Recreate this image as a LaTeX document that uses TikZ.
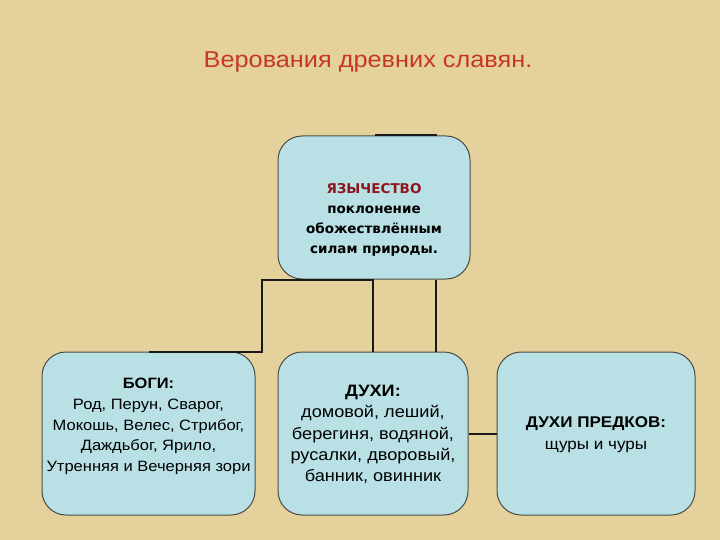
\documentclass[tikz,border=0pt]{standalone}
\usepackage{fontspec}
\setmainfont[FakeStretch=1.1]{Liberation Sans}
\newfontfamily\verd{DejaVu Sans}
\definecolor{parch}{RGB}{229,209,155}
\definecolor{boxfill}{RGB}{185,224,229}
\definecolor{boxline}{RGB}{75,75,70}
\definecolor{titlered}{RGB}{198,56,36}
\definecolor{darkred}{RGB}{140,22,30}
\begin{document}
\begin{tikzpicture}[x=1pt,y=-1pt,
  card/.style={draw=boxline, line width=1pt, fill=boxfill, rounded corners=24pt, inner sep=0pt},
  cardtext/.style={align=center, inner sep=0pt, text=black},
  link/.style={draw=black!90, line width=2pt}]
\useasboundingbox (0,0) rectangle (720,540);
\fill[parch] (0,0) rectangle (720,540);
\node[text=titlered, font=\fontsize{23}{27}\selectfont] (title) at (368,62) {Верования древних славян.};

\coordinate (jl) at (262,280);
\coordinate (jr) at (436,280);
\coordinate (tt) at (375,135);
\coordinate (tte) at (437,135);

\node[card, minimum width=192pt, minimum height=143pt] (top) at (374,207.5) {};
\node[card, minimum width=213pt, minimum height=163pt] (bogi) at (148.5,433.5) {};
\node[card, minimum width=190pt, minimum height=163pt] (duhi) at (373,433.5) {};
\node[card, minimum width=198pt, minimum height=163pt] (pred) at (596,433.5) {};

\node[cardtext, font=\verd\bfseries\fontsize{13.5}{20}\selectfont] (topT) at ([yshift=-12pt]top.center)
  {\textcolor{darkred}{ЯЗЫЧЕСТВО}\\поклонение\\обожествлённым\\силам природы.};
\node[cardtext, font=\fontsize{15}{20.8}\selectfont] (bogiT) at ([yshift=7pt]bogi.center)
  {\textbf{БОГИ:}\\Род, Перун, Сварог,\\Мокошь, Велес, Стрибог,\\Даждьбог, Ярило,\\Утренняя и Вечерняя зори};
\node[cardtext, font=\fontsize{16.5}{21.3}\selectfont] (duhiT) at ([yshift=-1pt]duhi.center)
  {\textbf{ДУХИ:}\\домовой, леший,\\берегиня, водяной,\\русалки, дворовый,\\банник, овинник};
\node[cardtext, font=\fontsize{15.5}{21.5}\selectfont] (predT) at ([yshift=-1pt]pred.center)
  {\textbf{ДУХИ ПРЕДКОВ:}\\щуры и чуры};

\draw[link] (bogi.north) -- (bogi.north -| jl) -- (jl) -- (jl -| duhi.north) -- (duhi.north);
\draw[link] (jr) -- (jr |- duhi.north);
\draw[link] (tt) -- (tte);
\draw[link] (duhi.east) -- (pred.west);
\end{tikzpicture}
\end{document}
